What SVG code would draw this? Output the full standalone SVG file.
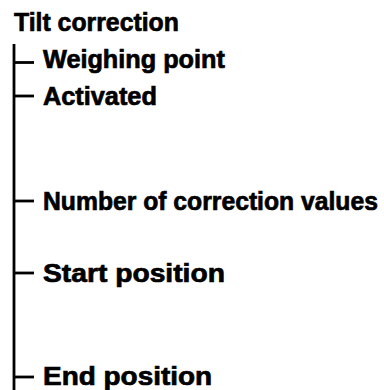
<svg xmlns="http://www.w3.org/2000/svg" width="384" height="390" viewBox="0 0 384 390">
<style>
text{font-family:"Liberation Sans",Arial,sans-serif;font-weight:bold;font-size:26px;fill:#000;stroke:#000;stroke-width:0.7}
.ln{stroke:#000;stroke-width:2.8;fill:none}
</style>
<rect width="384" height="390" fill="#fff"/>
<g id="root"><text transform="translate(14,30.5) scale(0.85,1)" textLength="194" lengthAdjust="spacingAndGlyphs">Tilt correction</text></g>
<g id="connectors">
<line class="ln" x1="14" y1="44" x2="14" y2="390"/>
<line class="ln" x1="14" y1="62.5" x2="34" y2="62.5"/>
<line class="ln" x1="14" y1="96" x2="34" y2="96"/>
<line class="ln" x1="14" y1="201" x2="34" y2="201"/>
<line class="ln" x1="14" y1="273" x2="34" y2="273"/>
<line class="ln" x1="14" y1="377" x2="34" y2="377"/>
</g>
<g id="weighing"><text transform="translate(43,67.5) scale(0.85,1)" textLength="214" lengthAdjust="spacingAndGlyphs">Weighing point</text></g>
<g id="activated"><text transform="translate(43,104.5) scale(0.85,1)" textLength="134" lengthAdjust="spacingAndGlyphs">Activated</text></g>
<g id="number"><text transform="translate(43,209.5) scale(0.85,1)" textLength="394" lengthAdjust="spacingAndGlyphs">Number of correction values</text></g>
<g id="start"><text transform="translate(43,281.5) scale(0.85,1)" textLength="214" lengthAdjust="spacingAndGlyphs">Start position</text></g>
<g id="end"><text transform="translate(43,384.5) scale(0.85,1)" textLength="199" lengthAdjust="spacingAndGlyphs">End position</text></g>
</svg>
